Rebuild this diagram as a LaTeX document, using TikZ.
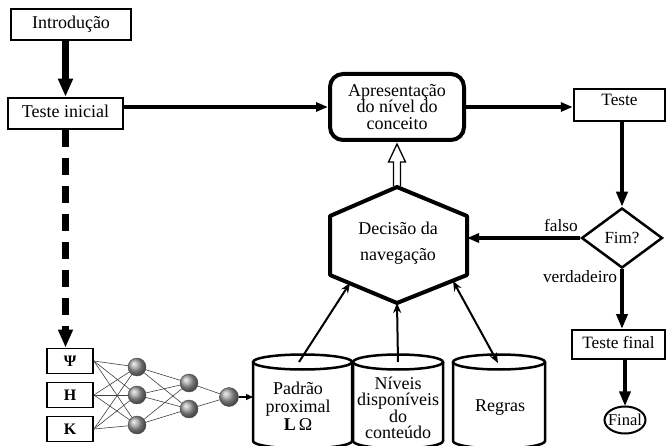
\documentclass[tikz,border=0pt]{standalone}
\usepackage{fontspec}
\setmainfont{Liberation Serif}
\usetikzlibrary{arrows.meta,shapes.geometric,calc}
\begin{document}
\begin{tikzpicture}[x=1pt,y=-1pt,
  every node/.style={font=\fontsize{18}{17}\selectfont, inner sep=0pt},
  box/.style={draw, rectangle, line width=2.5pt, text height=12pt, text depth=3.5pt},
  nnbox/.style={draw, rectangle, line width=1.8pt, minimum width=46pt, minimum height=25pt, font=\fontsize{16}{16}\selectfont\bfseries},
  ball/.style={circle, minimum size=18pt, ball color=gray!75, draw=gray!60!black, line width=0.4pt},
  bigarrow/.style={line width=4.5pt, -{Triangle[width=11pt,length=15pt]}},
  midarrow/.style={line width=4pt, -{Triangle[width=9pt,length=12pt]}},
  thinarrow/.style={line width=2pt, -{Stealth[width=8pt,length=10pt]}},
  nnline/.style={line width=0.6pt, black!75},
  cylline/.style={line width=2.5pt},
  rightfont/.style={font=\fontsize{17.3}{17}\selectfont}
]
\useasboundingbox (0,0) rectangle (666,446);

% top row
\node[box, minimum width=120pt, minimum height=31pt] (intro) at (71,24.5) {Introdução};
\node[box, minimum width=115pt, minimum height=31pt] (ti) at (65.5,113.5) {Teste inicial};
\node[draw, rectangle, rounded corners=13pt, line width=4pt, minimum width=134pt, minimum height=66pt, align=center, font=\fontsize{18}{16.5}\selectfont] (apr) at (397,107) {Apresentação\\do nível do\\conceito};
\node[draw, rectangle, rightfont, line width=2.5pt, minimum width=91pt, minimum height=32pt, text height=14pt, text depth=12pt] (teste) at (619.5,105) {Teste};

% decision side
\node[draw, diamond, line width=2.5pt, minimum width=81pt, minimum height=60pt, font=\fontsize{17}{17}\selectfont] (fim) at (622,238) {Fim?};
\node[box, rightfont, line width=2pt, minimum width=93pt, minimum height=29pt] (tf) at (618.5,344.5) {Teste final};
\node[rectangle, minimum height=27pt, font=\fontsize{16.5}{16.5}\selectfont] (final) at (625,420) {Final};
\draw[line width=2pt] (final.center) ellipse[x radius=20.5pt, y radius=13.5pt];
\node[rightfont] (lfalso) at (561,225) {falso};
\node[rightfont] (lverd) at (580,277) {verdadeiro};

% hexagon
\coordinate (hexT) at (397,187);
\coordinate (hexB) at (397,303);
\coordinate (hexR) at (467,238);
\coordinate (hexLL) at (350,283);
\coordinate (hexLR) at (453,281);
\draw[line width=1.3pt, fill=white]
  ($(hexT)+(-3.5,-1)$) -- ($(apr.south)+(-3.5,20)$) -- ($(apr.south)+(-8.5,20)$) -- ($(apr.south)+(0,2)$)
  -- ($(apr.south)+(8.5,20)$) -- ($(apr.south)+(3.5,20)$) -- ($(hexT)+(3.5,-1)$);
\draw[line width=4pt, line join=round] (397,187) -- (467,216) -- (467,275) -- (397,303) -- (330,275) -- (330,216) -- cycle;
\node[align=center, font=\fontsize{18}{26}\selectfont] (hex) at (398,243) {Decisão da\\navegação};

% cylinders
\newcommand{\cylshape}[4]{% cx, rx, top y, bottom y
  \draw[cylline, fill=white] (#1-#2,#3) -- (#1-#2,#4) arc[start angle=180, end angle=360, x radius=#2 pt, y radius=7.5pt] -- (#1+#2,#3);
  \draw[cylline] (#1,#3) ellipse[x radius=#2 pt, y radius=7.5pt];
}
\cylshape{302.5}{49.5}{362}{441}
\cylshape{398}{45}{362}{441}
\cylshape{499}{46}{362}{441}
\coordinate (c1top) at (299,362);
\coordinate (c2top) at (398,362);
\coordinate (c3top) at (498,363);
\coordinate (c1left) at (253,397);
\node[align=center, font=\fontsize{18}{18}\selectfont] (c1) at (298,406) {Padrão\\proximal\\{\bfseries L}\,Ω};
\node[align=center, font=\fontsize{18}{16.5}\selectfont] (c2) at (398,408) {Níveis\\disponíveis\\do\\conteúdo};
\node (c3) at (500,408) {Regras};

% neural network
\node[nnbox] (psi) at (70,361) {Ψ};
\node[nnbox] (hh) at (70,395) {H};
\node[nnbox] (kk) at (70,429) {K};
\coordinate (n11) at (137,367);
\coordinate (n12) at (137,395);
\coordinate (n13) at (137,425);
\coordinate (n21) at (189,383);
\coordinate (n22) at (189,409);
\coordinate (no) at (229,397);
\foreach \a in {psi,hh,kk}{\foreach \b in {n11,n12,n13}{\draw[nnline] (\a.east) -- (\b);}}
\foreach \a in {n11,n12,n13}{\foreach \b in {n21,n22}{\draw[nnline] (\a) -- (\b);}}
\foreach \a in {n21,n22}{\draw[nnline] (\a) -- (no);}
\node[ball] (b11) at (n11) {};
\node[ball] (b12) at (n12) {};
\node[ball] (b13) at (n13) {};
\node[ball] (b21) at (n21) {};
\node[ball] (b22) at (n22) {};
\node[ball, minimum size=19pt] (bo) at (no) {};
\draw[line width=1.2pt, -{Triangle[width=6pt,length=7pt]}] (bo) -- (c1left);

% connectors
\draw[line width=7pt, -{Triangle[width=14pt,length=18pt]}] (intro.south -| ti.north) -- (ti.north);
\draw[line width=6.5pt, dash pattern=on 17pt off 11pt, -{Triangle[width=14pt,length=18pt]}] (ti.south) -- (ti.south |- psi.north);
\draw[midarrow] (ti.east |- apr.west) -- (apr.west);
\draw[midarrow] (apr.east) -- (apr.east -| teste.west);
\draw[bigarrow] (teste.south -| fim.north) -- (fim.north);
\draw[midarrow] (fim.west) -- (fim.west -| hexR);
\draw[bigarrow] (fim.south) -- (fim.south |- tf.north);
\draw[bigarrow] (tf.south -| final.north) -- (final.north);
\draw[thinarrow] (c1top) -- (hexLL);
\draw[thinarrow] (c2top) -- (hexB);
\draw[line width=2pt, {Stealth[width=8pt,length=10pt]}-{Stealth[width=8pt,length=10pt]}] (hexLR) -- (c3top);
\end{tikzpicture}
\end{document}
